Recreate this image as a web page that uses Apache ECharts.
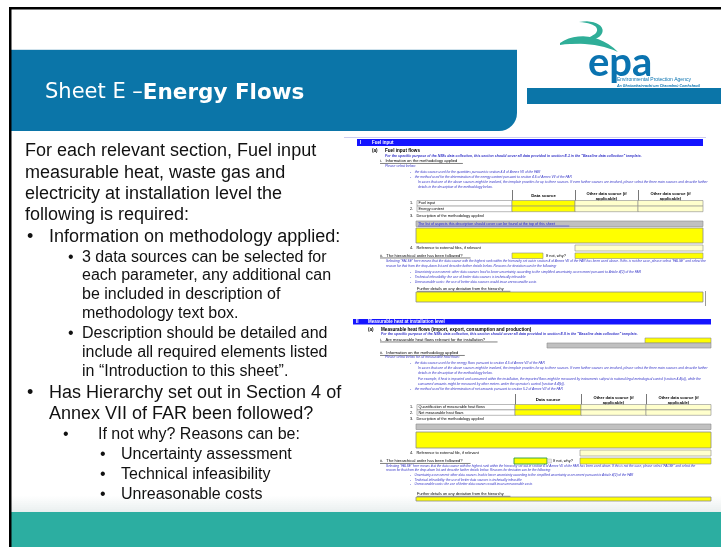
<!DOCTYPE html>
<html>
<head>
<meta charset="utf-8">
<script src="https://cdn.jsdelivr.net/npm/echarts@6/dist/echarts.min.js"></script>
<style>
html, body { margin: 0; padding: 0; background: #fff; }
#main { width: 721px; height: 547px; }
</style>
</head>
<body>
<div id="main"></div>
<script>
// slide texts
var titleA = 'Sheet E –';
var titleB = 'Energy Flows';
var logoWord = 'epa';
var logoLine1 = 'Environmental Protection Agency';
var logoLine2 = 'An Ghníomhaireacht um Chaomhnú Comhshaoil';

var introLines = [
    'For each relevant section, Fuel input',
    'measurable heat, waste gas and',
    'electricity at installation level the',
    'following is required:'
];
// [level, has bullet, text]
var bulletLines = [
    [1, true,  'Information on methodology applied:'],
    [2, true,  '3 data sources can be selected for'],
    [2, false, 'each parameter, any additional can'],
    [2, false, 'be included in description of'],
    [2, false, 'methodology text box.'],
    [2, true,  'Description should be detailed and'],
    [2, false, 'include all required elements listed'],
    [2, false, 'in “Introduction to this sheet”.'],
    [1, true,  'Has Hierarchy set out in Section 4 of'],
    [1, false, 'Annex VII of FAR been followed?'],
    [3, true,  'If not why? Reasons can be:'],
    [4, true,  'Uncertainty assessment'],
    [4, true,  'Technical infeasibility'],
    [4, true,  'Unreasonable costs']
];

// spreadsheet screenshot texts
var tableHead = ['Data source', 'Other data source (if', 'applicable)'];
var s1Bar = ['I', 'Fuel input'];
var s1Head = ['(a)', 'Fuel input flows'];
var s1Rows = ['Fuel input', 'Energy content'];
var s2Bar = ['II', 'Measurable heat at installation level'];
var s2Head = ['(a)', 'Measurable heat flows (import, export, consumption and production)'];
var s2Rows = ['Quantification of measurable heat flows', 'Net measurable heat flows'];
var s1Note = 'For the specific purpose of the NIMs data collection, this section should cover all data provided in section E.1 in the "Baseline data collection" template.';
var s2Note = 'For the specific purpose of the NIMs data collection, this section should cover all data provided in section E.II in the "Baseline data collection" template.';
var s1Method = [
    '-    the data source used for the quantities pursuant to section 4.4 of Annex VII of the FAR',
    '-    the method used for the determination of the energy content pursuant to section 4.6 of Annex VII of the FAR',
    'In cases that one of the above sources might be involved, the template provides for up to three sources. If even further sources are involved, please select the three main sources and describe further',
    'details in the description of the methodology below.'
];
var s2Method = [
    '-    the data source used for the energy flows pursuant to section 4.5 of Annex VII of the FAR',
    'In cases that one of the above sources might be involved, the template provides for up to three sources. If even further sources are involved, please select the three main sources and describe further',
    'details in the description of the methodology below.',
    'For example, if heat is imported and consumed within the installation, the imported flows might be measured by instruments subject to national legal metrological control (section 4.4(a)), while the',
    'consumed amounts might be measured by other meters under the operator\'s control (section 4.4(b)).',
    '-    the method used for the determination of net amounts pursuant to section 5.2 of Annex VII of the FAR'
];
var hierNotes = [
    'Selecting "FALSE" here means that the data source with the highest rank within the hierarchy set out in section 4 of Annex VII of the FAR has been used above. If this is not the case, please select "FALSE" and select the',
    'reason for that from the drop-down list and describe further details below. Reasons for deviation can be the following:',
    '-    Uncertainty assessment: other data sources lead to lower uncertainty according to the simplified uncertainty assessment pursuant to Article 4(2) of the FAR',
    '-    Technical infeasibility: the use of better data sources is technically infeasible',
    '-    Unreasonable costs: the use of better data sources would incur unreasonable costs'
];
var qMethod = 'i.   Information on the methodology applied';
var qMethod2 = 'ii.   Information on the methodology applied';
var qRelevant = 'i.   Are measurable heat flows relevant for the installation?';
var pleaseSel = 'Please select below:';
var pleaseSel2 = 'Please select below for all measurable heat flows:';
var descLabel = '3.   Description of the methodology applied';
var linkText = 'The list of aspects this description should cover can be found at the top of this sheet';
var refLabel = '4.   Reference to external files, if relevant';
var refLabel2 = '4.   Reference to external file, if relevant';
var hierLabel = 'ii.   The hierarchical order has been followed?';
var ifNot = 'If not, why?';
var furtherLabel = 'Further details on any deviation from the hierarchy';

var BLUE = '#0b75a8';
var TEAL = '#2caea1';
var SHEET_BLUE = '#1414ff';
var NOTE = '#3434c8';
var YEL = '#ffff00';
var LYEL = '#ffffcc';
var GRID = '#8c8c8c';
var SANS = '"Liberation Sans", Arial, sans-serif';

var els = [];

function rect(x, y, w, h, fill, stroke, lw, r) {
    els.push({
        type: 'rect', silent: true,
        shape: { x: x, y: y, width: w, height: h, r: r || 0 },
        style: { fill: fill, stroke: stroke || null, lineWidth: lw || 0 }
    });
}
function line(x1, y1, x2, y2, color, w) {
    els.push({
        type: 'line', silent: true,
        shape: { x1: x1, y1: y1, x2: x2, y2: y2 },
        style: { stroke: color, lineWidth: w || 1 }
    });
}
function text(x, y, s, size, opt) {
    opt = opt || {};
    var font = (opt.italic ? 'italic ' : '') + (opt.bold ? 'bold ' : '') + size + 'px ' + (opt.family || SANS);
    els.push({
        type: 'text', silent: true, x: x, y: y,
        style: {
            text: s, fill: opt.color || '#000', font: font,
            textAlign: opt.align || 'left', textVerticalAlign: 'middle',
            align: opt.align || 'left', verticalAlign: 'middle'
        }
    });
}
function uline(x, y, s, size, opt) {
    // underlined tiny label
    text(x, y, s, size, opt);
    var w = s.length * size * 0.47;
    line(x, y + size * 0.6, x + w, y + size * 0.6, (opt && opt.color) || '#000', 0.5);
}
// outline made of cubic curves -> polygon points
function curvePoly(start, segs) {
    var pts = [start];
    var p0 = start;
    segs.forEach(function (s) {
        for (var k = 1; k <= 12; k++) {
            var t = k / 12, u = 1 - t;
            pts.push([
                u * u * u * p0[0] + 3 * u * u * t * s[0][0] + 3 * u * t * t * s[1][0] + t * t * t * s[2][0],
                u * u * u * p0[1] + 3 * u * u * t * s[0][1] + 3 * u * t * t * s[1][1] + t * t * t * s[2][1]
            ]);
        }
        p0 = s[2];
    });
    return pts;
}

// ---- frame, header, footer ----
rect(11, 495, 710, 17, {
    type: 'linear', x: 0, y: 0, x2: 0, y2: 1,
    colorStops: [{ offset: 0, color: 'rgba(235,240,240,0)' }, { offset: 1, color: '#e9efef' }]
});
rect(11, 512, 710, 35, TEAL);
rect(11, 50, 506, 81, BLUE, null, 0, [0, 0, 18, 0]);
line(11, 49.5, 517, 49.5, '#cfe2ec', 1);
rect(527, 88, 194, 16, BLUE);
rect(9, 7, 712, 2.5, '#000');
rect(9, 7, 2.5, 540, '#000');

els.push({
    type: 'text', silent: true, x: 45, y: 93,
    style: {
        text: '{a|' + titleA + '}{b|' + titleB + '}',
        textVerticalAlign: 'middle', verticalAlign: 'middle',
        rich: {
            a: { fill: '#fff', fontSize: 21, fontFamily: '"DejaVu Sans", sans-serif' },
            b: { fill: '#fff', fontSize: 21.5, fontWeight: 'bold', fontFamily: '"DejaVu Sans", sans-serif' }
        }
    }
});

// logo swirl
els.push({
    type: 'polygon', silent: true,
    shape: { points: curvePoly([579, 22], [
        [[596, 19], [607, 27], [601, 35]],
        [[595, 42], [579, 44], [565, 44]],
        [[578, 41], [591, 38], [596, 33]],
        [[600, 27], [593, 23], [579, 22]]
    ]) },
    style: { fill: '#2fae98' }
});
els.push({
    type: 'polygon', silent: true,
    shape: { points: curvePoly([560, 43], [
        [[576, 32], [600, 34], [618, 52]],
        [[600, 44], [580, 42], [560, 45]]
    ]) },
    style: { fill: '#2fae98' }
});
text(588, 63, logoWord, 40, { bold: true, color: '#0a73b0', family: 'Lato, "Open Sans", sans-serif' });
text(617, 80, logoLine1, 5, { color: '#0a73b0' });
text(617, 85.5, logoLine2, 3.6, { color: '#0a73b0', bold: true, italic: true });

// ---- left bullet text ----
var indent = {
    0: [null, 25], 1: [27, 49], 2: [68, 82], 3: [63, 98], 4: [100, 121]
};
var y = 151.5;
var allLines = introLines.map(function (s) { return [0, false, s]; }).concat(bulletLines);
allLines.forEach(function (ln, i) {
    var size = ln[0] <= 1 ? 18 : 16;
    if (i > 0) y += (size === 18 ? 21.1 : 18.8) + (ln[1] ? 1.2 : 0);
    var ind = indent[ln[0]];
    if (ln[1]) text(ind[0], y, '•', size, { color: '#111' });
    text(ind[1], y, ln[2], size, { color: '#111' });
});

// ---- spreadsheet screenshot ----
line(344, 137.5, 706, 137.5, '#cdcdf0', 1);

function section(o) {
    var L = o.left, R = o.right;
    rect(L, o.barY, R - L, o.barH, SHEET_BLUE);
    text(L + 3, o.barY + o.barH / 2, o.bar[0], 4.5, { color: '#fff', bold: true });
    text(L + 15, o.barY + o.barH / 2, o.bar[1], 4.5, { color: '#fff', bold: true });
    text(L + 15, o.headY, o.head[0], 4.6, { bold: true });
    text(L + 28, o.headY, o.head[1], 4.6, { bold: true });
    text(L + 28, o.noteY, o.note, 3.55, { color: NOTE, bold: true, italic: true });
}

function methodBlock(o) {
    var cols = o.cols; // x of column lines
    var R = cols[3];
    for (var c = 0; c < 3; c++) line(cols[c] + 0.5, o.headTop, cols[c] + 0.5, o.rowY + o.rowH * 2, '#555', 0.8);
    text((cols[0] + cols[1]) / 2, o.headTop + 6, tableHead[0], 4.3, { bold: true, align: 'center' });
    for (c = 1; c < 3; c++) {
        text((cols[c] + cols[c + 1]) / 2, o.headTop + 3.5, tableHead[1], 4.1, { bold: true, align: 'center' });
        text((cols[c] + cols[c + 1]) / 2, o.headTop + 8.5, tableHead[2], 4.1, { bold: true, align: 'center' });
    }
    o.rows.forEach(function (r, i) {
        var ry = o.rowY + i * o.rowH;
        rect(o.labelX, ry, cols[0] - o.labelX, o.rowH, '#fff', GRID, 0.6);
        text(o.labelX - 7, ry + o.rowH / 2, (i + 1) + '.', 3.8);
        text(o.labelX + 1.5, ry + o.rowH / 2, r, 3.8);
        rect(cols[0], ry, cols[1] - cols[0], o.rowH, YEL, GRID, 0.6);
        rect(cols[1], ry, cols[2] - cols[1], o.rowH, LYEL, GRID, 0.6);
        rect(cols[2], ry, R - cols[2], o.rowH, LYEL, GRID, 0.6);
    });
}

// section I : fuel input
section({ left: 357, right: 703, barY: 139, barH: 7, bar: s1Bar, headY: 151, head: s1Head, noteY: 156, note: s1Note });
uline(380, 161, qMethod, 4.1);
text(385, 166.5, pleaseSel, 3.4, { color: NOTE, italic: true });
s1Method.forEach(function (s, i) {
    text(s.charAt(0) === '-' ? 410 : 418, 172.5 + i * 4.9, s, 3.3, { color: NOTE, italic: true });
});
methodBlock({ cols: [512, 575, 638, 703], headTop: 190, rowY: 200.5, rowH: 5.6, labelX: 417, rows: s1Rows });
text(410, 216, descLabel, 3.9);
rect(416, 221, 287, 5.5, '#c0c0c0', GRID, 0.6);
uline(418, 223.8, linkText, 3.7, { color: '#2020e0' });
rect(416, 228, 287, 15, YEL, GRID, 0.8);
text(410, 248, refLabel, 3.9);
rect(575, 245, 128, 6, LYEL, GRID, 0.6);
uline(380, 255.5, hierLabel, 4.1);
rect(512, 253, 31, 5.5, YEL, GRID, 0.6);
text(546, 255.5, ifNot, 3.9);
rect(575, 253, 128, 5.5, YEL, GRID, 0.6);
hierNotes.forEach(function (s, i) {
    text(s.charAt(0) === '-' ? 410 : 386, 261.5 + i * 4.9 + (i > 1 ? 1 : 0), s, 3.3, { color: NOTE, italic: true });
});
uline(417, 289, furtherLabel, 3.9);
rect(416, 292, 287, 10, YEL, GRID, 0.8);
line(705.5, 291, 705.5, 306, '#9a9a9a', 1);

// section II : measurable heat
section({ left: 353, right: 711, barY: 319, barH: 5.5, bar: s2Bar, headY: 330, head: s2Head, noteY: 334.5, note: s2Note });
uline(380, 339.5, qRelevant, 4.1);
rect(645, 338, 66, 5, YEL, GRID, 0.6);
rect(547, 343, 164, 5, '#c0c0c0', GRID, 0.6);
uline(380, 353, qMethod2, 4.1);
text(385, 357.5, pleaseSel2, 3.4, { color: NOTE, italic: true });
s2Method.forEach(function (s, i) {
    text(s.charAt(0) === '-' ? 410 : 418, 363 + i * 5.2, s, 3.3, { color: NOTE, italic: true });
});
methodBlock({ cols: [515, 581, 646, 711], headTop: 394, rowY: 404.5, rowH: 5.4, labelX: 417, rows: s2Rows });
text(410, 419, descLabel, 3.9);
rect(416, 424, 295, 5.5, '#c0c0c0', GRID, 0.6);
rect(416, 432, 295, 16, YEL, GRID, 0.8);
text(410, 453, refLabel2, 3.9);
rect(580, 450, 131, 6, LYEL, GRID, 0.6);
uline(380, 461, hierLabel, 4.1);
rect(514, 458, 33, 6, YEL, '#2a9a48', 0.9);
rect(547.5, 459, 4, 4, '#e8e8e8', '#aaa', 0.4);
text(553, 461, ifNot, 3.9);
rect(580, 458, 131, 6, YEL, GRID, 0.6);
hierNotes.forEach(function (s, i) {
    text(s.charAt(0) === '-' ? 410 : 386, 466 + i * 4.3 + (i > 1 ? 0.8 : 0), s, 3.2, { color: NOTE, italic: true });
});
uline(417, 494, furtherLabel, 3.9);
rect(416, 497, 295, 4, YEL, GRID, 0.8);

var myChart = echarts.init(document.getElementById('main'), null, { renderer: 'canvas' });
myChart.setOption({
    animation: false,
    graphic: { elements: els }
});
</script>
</body>
</html>
